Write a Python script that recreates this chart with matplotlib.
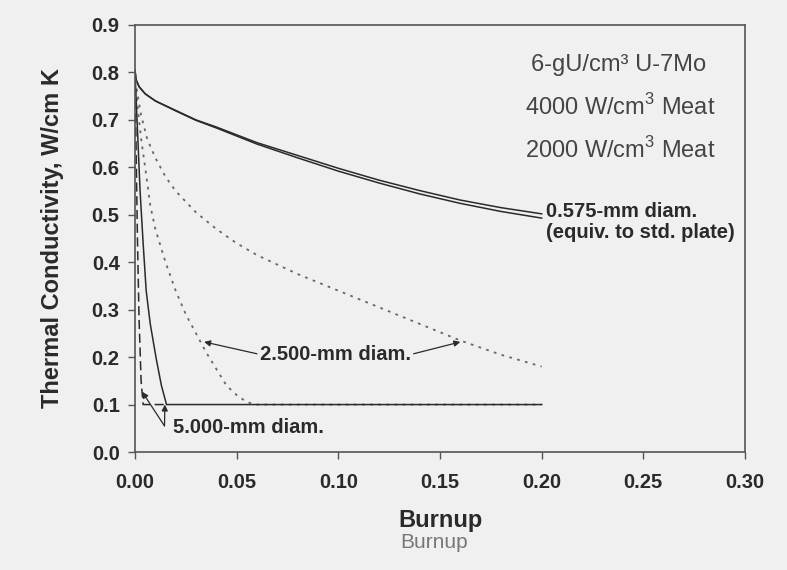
import matplotlib
matplotlib.use("Agg")
import matplotlib.pyplot as plt

plt.rcParams["font.family"] = ["Liberation Sans", "DejaVu Sans"]
plt.rcParams["mathtext.fontset"] = "custom"
plt.rcParams["mathtext.rm"] = "Liberation Sans"

# 0.575-mm diam. (equiv. to std. plate), both power densities
burnup_0575 = [0, 0.0005, 0.002, 0.005, 0.01, 0.02, 0.03, 0.04, 0.06, 0.08,
               0.10, 0.12, 0.14, 0.16, 0.18, 0.20]
k_0575_2000 = [0.805, 0.785, 0.770, 0.755, 0.740, 0.720, 0.700, 0.685, 0.652,
               0.625, 0.598, 0.573, 0.551, 0.531, 0.515, 0.502]
k_0575_4000 = [0.805, 0.785, 0.770, 0.755, 0.740, 0.719, 0.699, 0.683, 0.649,
               0.620, 0.592, 0.567, 0.544, 0.524, 0.507, 0.493]

# 2.500-mm diam.
burnup_2500_2000 = [0, 0.001, 0.003, 0.006, 0.01, 0.015, 0.02, 0.03, 0.04,
                    0.05, 0.06, 0.08, 0.10, 0.12, 0.14, 0.16, 0.18, 0.20]
k_2500_2000 = [0.80, 0.76, 0.71, 0.66, 0.62, 0.58, 0.55, 0.505, 0.47, 0.44,
               0.415, 0.375, 0.34, 0.305, 0.27, 0.235, 0.205, 0.18]
burnup_2500_4000 = [0, 0.001, 0.003, 0.005, 0.0075, 0.01, 0.015, 0.02, 0.025,
                    0.03, 0.035, 0.04, 0.045, 0.05, 0.055, 0.06, 0.20]
k_2500_4000 = [0.78, 0.74, 0.66, 0.60, 0.52, 0.47, 0.40, 0.34, 0.29, 0.25,
               0.21, 0.175, 0.14, 0.12, 0.105, 0.10, 0.10]

# 5.000-mm diam.
burnup_5000_2000 = [0, 0.001, 0.0025, 0.004, 0.0055, 0.0075, 0.0105, 0.013,
                    0.0155, 0.018, 0.20]
k_5000_2000 = [0.80, 0.70, 0.55, 0.44, 0.34, 0.27, 0.195, 0.14, 0.10, 0.10, 0.10]
burnup_5000_4000 = [0, 0.0005, 0.0012, 0.002, 0.003, 0.004, 0.015]
k_5000_4000 = [0.80, 0.65, 0.45, 0.28, 0.15, 0.10, 0.10]

x_ticks = [0.00, 0.05, 0.10, 0.15, 0.20, 0.25, 0.30]
y_ticks = [0.0, 0.1, 0.2, 0.3, 0.4, 0.5, 0.6, 0.7, 0.8, 0.9]

bg = "#f0f0f0"
ink = "#2a2a2a"
gris = "#555555"

fig = plt.figure(figsize=(7.87, 5.70), dpi=100, facecolor=bg)
ax = fig.add_axes([135 / 787, 1 - 452 / 570, 610 / 787, 427 / 570], facecolor=bg)

ax.plot(burnup_0575, k_0575_2000, color=ink, lw=1.1)
ax.plot(burnup_0575, k_0575_4000, color=ink, lw=1.1)
ax.plot(burnup_2500_2000, k_2500_2000, color="#666666", lw=1.3, ls=(0, (1.5, 3)))
ax.plot(burnup_2500_4000, k_2500_4000, color="#666666", lw=1.3, ls=(0, (1.5, 3)))
ax.plot(burnup_5000_2000, k_5000_2000, color=ink, lw=1.1)
ax.plot(burnup_5000_4000, k_5000_4000, color=ink, lw=1.1, ls=(0, (6, 3)))

ax.set_xlim(0, 0.30)
ax.set_ylim(0, 0.9)
ax.set_xticks(x_ticks)
ax.set_yticks(y_ticks)
ax.set_xticklabels([f"{v:.2f}" for v in x_ticks])
ax.set_yticklabels([f"{v:.1f}" for v in y_ticks])
ax.tick_params(direction="out", length=5, width=1, color=gris, labelsize=14.5,
               labelcolor=ink, pad=6)
ax.tick_params(axis="x", pad=10)
for lab in ax.get_xticklabels() + ax.get_yticklabels():
    lab.set_fontweight("bold")
for sp in ax.spines.values():
    sp.set_color(gris)
    sp.set_linewidth(1.2)

# notes in upper right
ax.text(0.1946, 0.815, "6-gU/cm³ U-7Mo", fontsize=17, color="#444444", va="center")
ax.text(0.192, 0.727, "4000 W/cm$^{3}$ Meat", fontsize=17, color="#444444", va="center")
ax.text(0.192, 0.636, "2000 W/cm$^{3}$ Meat", fontsize=17, color="#444444", va="center")

# curve labels
lab_kw = dict(fontsize=14.5, fontweight="bold", color=ink, va="center")
ax.text(0.2023, 0.507, "0.575-mm diam.", **lab_kw)
ax.text(0.2023, 0.463, "(equiv. to std. plate)", **lab_kw)

ax.text(0.0615, 0.205, "2.500-mm diam.", **lab_kw)
arrow = dict(arrowstyle="-|>", color=ink, lw=0.9, mutation_scale=9, shrinkA=0, shrinkB=0)
ax.annotate("", xy=(0.034, 0.232), xytext=(0.060, 0.207), arrowprops=arrow)
ax.annotate("", xy=(0.160, 0.232), xytext=(0.137, 0.207), arrowprops=arrow)

ax.text(0.0186, 0.051, "5.000-mm diam.", **lab_kw)
ax.annotate("", xy=(0.0035, 0.127), xytext=(0.0145, 0.055), arrowprops=arrow)
ax.annotate("", xy=(0.0147, 0.100), xytext=(0.0145, 0.055), arrowprops=arrow)

ax.set_ylabel("Thermal Conductivity, W/cm K", fontsize=17, fontweight="bold",
              color=ink, labelpad=20)
fig.text(440 / 787, 1 - 520 / 570, "Burnup", fontsize=17, fontweight="bold",
         color=ink, ha="center", va="center")
fig.text(434 / 787, 1 - 543 / 570, "Burnup", fontsize=15, color="#777777",
         ha="center", va="center")

fig.savefig("out.png", dpi=100, facecolor=bg)
